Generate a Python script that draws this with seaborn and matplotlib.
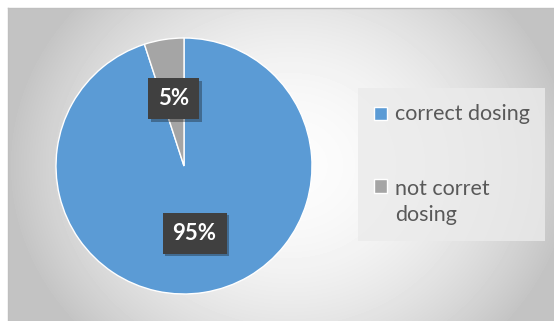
import numpy as np
import matplotlib
matplotlib.use("Agg")
import matplotlib.pyplot as plt
import matplotlib.patheffects as pe
import seaborn as sns

# data
labels = ["correct dosing", "not corret\ndosing"]
values = [95, 5]
colors = ["#5B9BD5", "#A5A5A5"]

sns.set_theme(style="white")
plt.rcParams['font.family'] = ['Lato', 'DejaVu Sans']

W, H = 554, 321
fig = plt.figure(figsize=(W / 100, H / 100), dpi=100)
fig.patch.set_facecolor("white")

# chart area with soft radial gradient background
bg = fig.add_axes([8 / W, 0, (W - 8) / W, (H - 8) / H])
xx, yy = np.meshgrid(np.arange(8, W), np.arange(8, H))
r = np.sqrt(((xx - 290) / 285.0) ** 2 + ((yy - 165) / 250.0) ** 2)
grey = np.clip(252 - 58 * r ** 2, 196, 252) / 255.0
bg.imshow(grey, cmap="gray", vmin=0, vmax=1, aspect="auto", interpolation="bilinear")
bg.set_xticks([])
bg.set_yticks([])
for s in bg.spines.values():
    s.set_color("#bfbfbf")
    s.set_linewidth(1)
bg.spines["right"].set_visible(False)
bg.spines["bottom"].set_visible(False)

# pie
cx, cy, rad = 184, 166, 128
ax = fig.add_axes([(cx - rad) / W, (H - cy - rad) / H, 2 * rad / W, 2 * rad / H])
wedges, texts, autotexts = ax.pie(values, colors=colors, startangle=90, counterclock=False,
                                  autopct='%1.0f%%', pctdistance=0.53,
                                  textprops=dict(color="white", fontsize=16, fontweight="bold"))
for t in autotexts:
    t.set_bbox(dict(boxstyle="square,pad=0.45", facecolor="#404040", edgecolor="none"))
    t.get_bbox_patch().set_path_effects([pe.SimplePatchShadow(offset=(2, -2), alpha=0.35),
                                         pe.Normal()])
ax.set_xlim(-1, 1)
ax.set_ylim(-1, 1)
ax.set_aspect("equal")
ax.axis("off")

leg = fig.legend(wedges, labels, loc="upper left",
                 bbox_to_anchor=(358 / W, 1 - 237 / H, 187 / W, 149 / H), mode="expand",
                 frameon=True, fancybox=False, fontsize=15.5, labelcolor="#595959",
                 handlelength=0.62, handleheight=0.62, handletextpad=0.4,
                 labelspacing=2.6, borderpad=0.72, borderaxespad=0)
for t in leg.get_texts():
    t.set_linespacing(1.35)
# put the marker next to the first line of a wrapped label
for col in leg._legend_handle_box.get_children():
    for item in col.get_children():
        item.align = "center" if "\n" not in item.get_children()[1]._text.get_text() else "top"
leg.get_frame().set_facecolor("#ebebeb")
leg.get_frame().set_alpha(0.8)
leg.get_frame().set_edgecolor("none")

fig.savefig("out.png", dpi=100)
